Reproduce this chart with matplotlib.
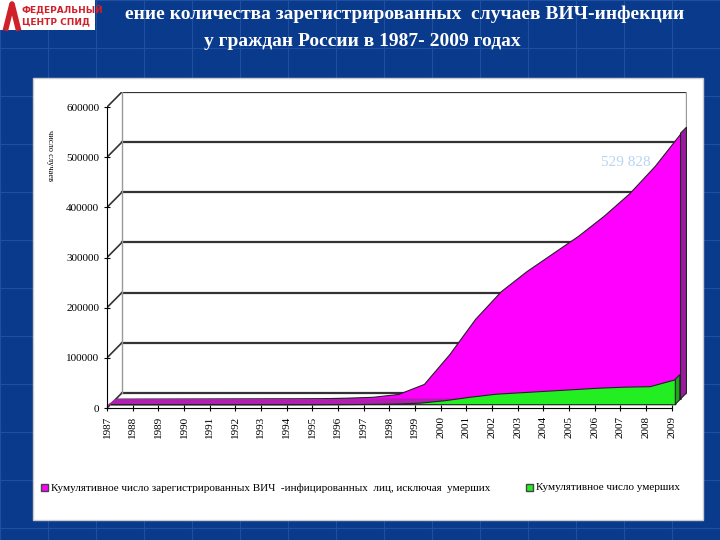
import matplotlib
matplotlib.use("Agg")
import matplotlib.pyplot as plt
from matplotlib.patches import Rectangle, Polygon
import numpy as np

years = list(range(1987, 2010))
infected = [500, 700, 800, 900, 1000, 1100, 1200, 1300, 1500, 2600, 4300, 10000, 30000,
            90000, 160000, 215000, 255000, 290000, 325000, 365000, 410000, 465000, 529828]
deaths = [0, 0, 0, 0, 0, 0, 0, 0, 100, 300, 600, 1200, 3000,
          8000, 15000, 21000, 24000, 27000, 30000, 33000, 35000, 36000, 50000]
yticks = [0, 100000, 200000, 300000, 400000, 500000, 600000]

plt.rcParams['font.family'] = ['Liberation Serif', 'DejaVu Serif']
fig = plt.figure(figsize=(7.2, 5.4), dpi=100)
fig.patch.set_facecolor('#0a3a8c')
bg = fig.add_axes([0, 0, 1, 1]); bg.set_xlim(0, 720); bg.set_ylim(540, 0); bg.axis('off')
for gx in range(0, 720, 48):
    bg.plot([gx, gx], [0, 540], color='#1e4fa0', lw=0.8, zorder=1)
for gy in range(0, 540, 48):
    bg.plot([0, 720], [gy, gy], color='#1e4fa0', lw=0.8, zorder=1)
bg.add_patch(Rectangle((33, 78), 670, 442, facecolor='white', edgecolor='#cccccc', zorder=3))
# logo
bg.add_patch(Rectangle((0, 0), 95, 30, facecolor='white', zorder=5))
bg.plot([6, 12, 18], [28, 4, 28], color='#d0202a', lw=4, zorder=6)
bg.text(22, 10, "ФЕДЕРАЛЬНЫЙ", color='#d0202a', fontsize=6.5, fontweight='bold', family='DejaVu Sans', va='center', zorder=6)
bg.text(22, 22, "ЦЕНТР СПИД", color='#d0202a', fontsize=6.5, fontweight='bold', family='DejaVu Sans', va='center', zorder=6)
bg.text(405, 14, "ение количества зарегистрированных  случаев ВИЧ-инфекции", color='white',
        fontsize=14, fontweight='bold', ha='center', va='center', zorder=4)
bg.text(362, 42, "у граждан России в 1987- 2009 годах", color='white',
        fontsize=14, fontweight='bold', ha='center', va='center', zorder=4)
# legend
bg.add_patch(Rectangle((41, 484), 7, 7, facecolor='#ff00ff', edgecolor='#444', zorder=4))
bg.text(51, 488, "Кумулятивное число зарегистрированных ВИЧ  -инфицированных  лиц, исключая  умерших",
        fontsize=8, va='center', zorder=4)
bg.add_patch(Rectangle((526, 484), 7, 7, facecolor='#22ee22', edgecolor='#444', zorder=4))
bg.text(536, 488, "Кумулятивное число умерших", fontsize=8, va='center', zorder=4)

ax = fig.add_axes([107/720, 1-408/540, (687-107)/720, 316/540])
ax.set_xlim(1987, 2009.6); ax.set_ylim(0, 630000)
ax.patch.set_alpha(0)
dx, dy = 0.58, 30000
x0, x1 = 1987, 2009
for v in yticks:
    ax.plot([x0 + dx, x1 + dx], [v + dy, v + dy], color='#333', lw=1.6, zorder=1)
    ax.plot([x0, x0 + dx], [v, v + dy], color='#333', lw=1.2, zorder=1)
ax.plot([x0 + dx, x0 + dx], [dy, 600000 + dy], color='#999', lw=1, zorder=1)
ax.plot([x1 + dx, x1 + dx], [dy, 600000 + dy], color='#999', lw=1, zorder=1)
xs = np.array(years, dtype=float)
inf = np.array(infected, dtype=float)
dth = np.array(deaths, dtype=float)
mx = xs + dx * 0.6; my = inf + dy * 0.6
ax.fill_between(mx, dy * 0.6, my, color='#ff00ff', ec='#222', lw=0.8, zorder=2)
ax.add_patch(Polygon([[mx[-1], dy*0.6], [mx[-1], my[-1]], [mx[-1]+dx*0.4, my[-1]+dy*0.4],
                      [mx[-1]+dx*0.4, dy]], facecolor='#9a1aa0', edgecolor='#222', lw=0.8, zorder=2))
ax.add_patch(Polygon(list(zip(xs, np.zeros_like(xs) + 6000)) + [(mx[-1], dy*0.6), (mx[0], dy*0.6)],
                     facecolor='#b020b0', edgecolor='none', zorder=2))
gx_ = xs + dx * 0.25; gy_ = dth + dy * 0.25
ax.fill_between(gx_, dy * 0.25, gy_, color='#22ee22', ec='#222', lw=0.8, zorder=3)
ax.add_patch(Polygon([[gx_[-1], dy*0.25], [gx_[-1], gy_[-1]], [gx_[-1]+dx*0.3, gy_[-1]+dy*0.3],
                      [gx_[-1]+dx*0.3, dy*0.55]], facecolor='#18a818', edgecolor='#222', lw=0.8, zorder=3))
ax.text(2007.2, 490000, "529 828", color='#b8d4f0', fontsize=11, ha='center', va='center')
for s in ['top', 'right']:
    ax.spines[s].set_visible(False)
ax.spines['bottom'].set_bounds(x0, x1)
ax.spines['left'].set_bounds(0, 600000)
ax.set_yticks(yticks); ax.set_yticklabels([str(v) for v in yticks], fontsize=8)
ax.set_xticks(years); ax.set_xticklabels([str(y) for y in years], rotation=90, fontsize=8)
ax.tick_params(direction='inout', length=4)
ax.set_ylabel("число случаев", rotation=270, fontsize=6)
ax.yaxis.set_label_coords(-0.105, 0.8)
fig.savefig("out.png", dpi=100, facecolor=fig.get_facecolor())
